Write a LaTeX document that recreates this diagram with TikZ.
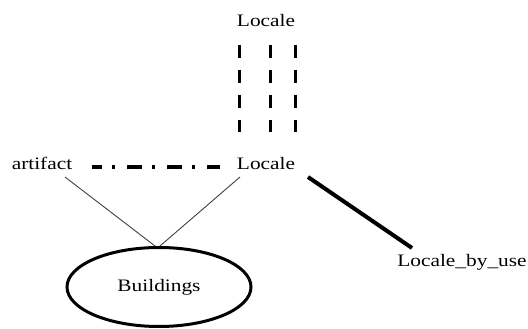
\documentclass[tikz,border=0pt]{standalone}
\usepackage{fontspec}
\usepackage{graphicx}
\setmainfont{Liberation Serif}
\usetikzlibrary{shapes.geometric}
\newcommand\wtxt[1]{\scalebox{1.22}[1]{#1}}
\tikzset{
  lbl/.style={font=\fontsize{17.5}{20}\selectfont, inner sep=0pt, anchor=base},
  vdash/.style={line width=3pt, dash pattern=on 13pt off 12pt},
  dashdot/.style={line width=3.5pt, dash pattern=on 15pt off 10pt on 3pt off 12pt, dash phase=5pt},
  thinline/.style={line width=0.9pt, draw=black!75},
  thickline/.style={line width=4pt},
  ell/.style={ellipse, draw, line width=3pt, minimum width=184pt, minimum height=79pt, inner sep=0pt, font=\fontsize{17.5}{20}\selectfont}
}
\begin{document}
\begin{tikzpicture}[x=1pt,y=1pt]
\useasboundingbox (0,0) rectangle (528,329);
\node[lbl] (top) at (266,302) {\wtxt{Locale}};
\node[lbl] (mid) at (266,159) {\wtxt{Locale}};
\node[lbl] (art) at (42,159) {\wtxt{artifact}};
\node[lbl] (lbu) at (462,62) {\wtxt{Locale\_by\_use}};
\node[ell] (bld) at (159,42) {\raisebox{-1pt}{\wtxt{Buildings}}};
\foreach \dx in {-27,4,29}{
  \draw[vdash] ([xshift=\dx pt,yshift=-18pt]top.base) -- ([xshift=\dx pt,yshift=38pt]mid.base);
}
\draw[dashdot] ([xshift=50pt,yshift=3pt]art.base) -- ([xshift=-46pt,yshift=3pt]mid.base);
\draw[thinline] ([xshift=23pt,yshift=-7pt]art.base) -- ([xshift=-4pt]bld.north);
\draw[thinline] ([xshift=-26pt,yshift=-7pt]mid.base) -- ([xshift=1pt]bld.north);
\draw[thickline] ([xshift=42pt,yshift=-7pt]mid.base) -- ([xshift=-50pt,yshift=19pt]lbu.base);
\end{tikzpicture}
\end{document}
